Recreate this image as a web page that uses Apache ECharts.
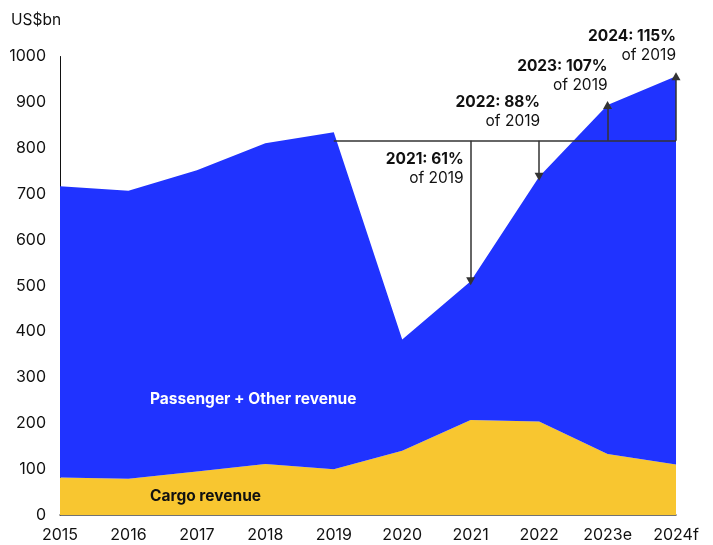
<!DOCTYPE html>
<html>
<head>
<meta charset="utf-8">
<script src="https://cdn.jsdelivr.net/npm/echarts@6/dist/echarts.min.js"></script>
<style>
  html, body { margin: 0; padding: 0; background: #fff; }
  #chart { width: 713px; height: 545px; }
</style>
</head>
<body>
<div id="chart"></div>
<script>
const years = ['2015', '2016', '2017', '2018', '2019', '2020', '2021', '2022', '2023e', '2024f'];
const totalRevenue = [717, 707, 752, 811, 835, 383, 510, 738, 894, 957];
const cargoRevenue = [82, 79, 95, 111, 100, 140, 207, 204, 133, 110];
const passengerRevenue = totalRevenue.map((t, i) => t - cargoRevenue[i]);
const ref2019 = 816;
const arrowYears = ['2021', '2022', '2023e', '2024f'];
const arrowTitles = ['2021: 61%', '2022: 88%', '2023: 107%', '2024: 115%'];
const labelOffsets = [[-7, -112], [1, -65], [0, -29], [0, -30]];

const blue = '#2033FF';
const yellow = '#F8C630';
const font = 'Inter, "Noto Sans", sans-serif';

let chart = echarts.init(document.getElementById('chart'));

const arrowLines = arrowYears.map(y => {
  const v = totalRevenue[years.indexOf(y)];
  return [{ coord: [y, ref2019] }, { coord: [y, v] }];
});
const refLine = [{ coord: ['2019', ref2019], symbol: 'none' }, { coord: ['2024f', ref2019], symbol: 'none' }];

const notePoints = arrowYears.map((y, i) => ({
  coord: [y, totalRevenue[years.indexOf(y)]],
  label: {
    formatter: '{b|' + arrowTitles[i] + '}\n{n|of 2019}',
    offset: labelOffsets[i]
  }
}));

const option = {
  backgroundColor: '#fff',
  animation: false,
  textStyle: { fontFamily: font },
  grid: { left: 60, right: 37, top: 56.5, bottom: 30 },
  xAxis: {
    type: 'category',
    boundaryGap: false,
    data: years,
    axisLine: { lineStyle: { color: '#444', width: 1.5 } },
    axisTick: { show: false },
    axisLabel: { color: '#111', fontSize: 16, margin: 12, fontFamily: font }
  },
  yAxis: {
    type: 'value',
    min: 0,
    max: 1000,
    interval: 100,
    splitLine: { show: false },
    axisLine: { show: true, lineStyle: { color: '#111', width: 1 } },
    axisTick: { show: false },
    axisLabel: { color: '#111', fontSize: 16, margin: 14, fontFamily: font, formatter: v => String(v) }
  },
  graphic: [
    { type: 'text', left: 11, top: 12, style: { text: 'US$bn', fontSize: 15.5, fill: '#111', fontFamily: font } },
    { type: 'text', left: 150, top: 391, z: 10, style: { text: 'Passenger + Other revenue', fontSize: 15.5, fontWeight: 'bold', fill: '#fff', fontFamily: font } },
    { type: 'text', left: 150, top: 488, z: 10, style: { text: 'Cargo revenue', fontSize: 15.5, fontWeight: 'bold', fill: '#111', fontFamily: font } }
  ],
  series: [
    {
      name: 'Cargo revenue',
      type: 'line',
      stack: 'rev',
      data: cargoRevenue,
      symbol: 'none',
      lineStyle: { width: 0 },
      areaStyle: { color: yellow, opacity: 1 }
    },
    {
      name: 'Passenger + Other revenue',
      type: 'line',
      stack: 'rev',
      data: passengerRevenue,
      symbol: 'none',
      lineStyle: { width: 0 },
      areaStyle: { color: blue, opacity: 1 }
    },
    {
      name: 'notes',
      type: 'line',
      data: [],
      z: 5,
      markLine: {
        silent: true,
        animation: false,
        symbol: ['none', 'triangle'],
        symbolSize: [9, 8],
        lineStyle: { color: '#333', width: 1.5, type: 'solid' },
        label: { show: false },
        data: [refLine].concat(arrowLines)
      },
      markPoint: {
        symbol: 'circle',
        symbolSize: 0,
        silent: true,
        label: {
          show: true,
          position: [0, 0],
          align: 'right',
          verticalAlign: 'middle',
          lineHeight: 19,
          rich: {
            b: { fontSize: 15.5, fontWeight: 'bold', color: '#111', align: 'right', lineHeight: 19, fontFamily: font },
            n: { fontSize: 15.5, color: '#111', align: 'right', lineHeight: 19, fontFamily: font }
          }
        },
        data: notePoints
      }
    }
  ]
};

chart.setOption(option);
window.onresize = function () {
  chart.resize();
};
</script>
</body>
</html>
